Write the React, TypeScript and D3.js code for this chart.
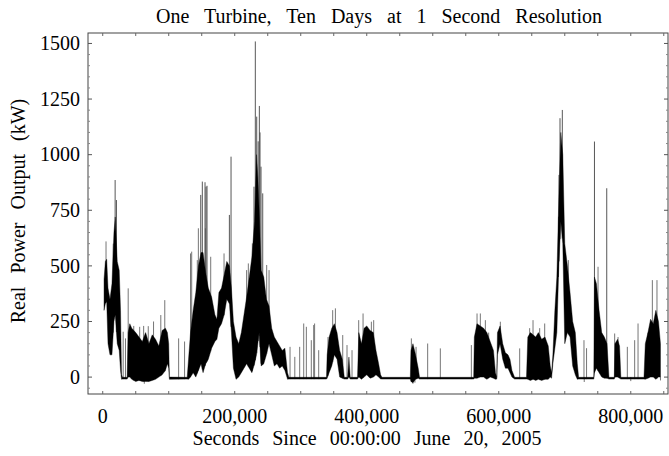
import * as d3 from "d3";

// envelope of the dense trace: time (thousand seconds), low and high of the black band (kW)
const envT = [
  2, 4, 6, 8, 11, 14, 17, 19, 22, 25, 27, 28.5, 30, 37, 38.5, 41, 44, 50, 55, 60,
  65, 70, 75, 80, 85, 90, 95, 98, 100, 101, 128, 130, 133, 137, 141, 145, 149, 152, 156, 160,
  165, 170, 173, 176, 180, 184, 188, 192, 195, 198, 202, 206, 210, 214, 218, 222, 226, 230, 233, 235,
  237, 240, 244, 248, 252, 256, 260, 264, 268, 272, 276, 280, 282, 339, 340, 343, 347, 351, 355, 359,
  363, 366, 371, 373, 375, 386, 388, 392, 396, 400, 405, 410, 414, 418, 421, 423, 466, 467, 470, 474,
  478, 480, 562, 563, 567, 572, 577, 582, 587, 592, 595, 597, 598, 602, 606, 610, 614, 617, 620, 624,
  642, 644, 648, 652, 656, 660, 665, 670, 675, 678, 680, 682, 685, 688, 691, 694, 697, 700, 704, 708,
  712, 716, 719, 721, 744, 745, 748, 752, 756, 760, 764, 767, 775, 776, 780, 783, 785, 820, 822, 826,
  830, 834, 838, 842, 845,
];
const envLo = [
  300, 330, 340, 150, 100, 100, 250, 280, 150, 120, 30, -10, -9, -9, 0, 0, -10, -20, -15, -20,
  -20, -20, -15, -10, 0, 10, 30, 60, 40, -10, -9, -10, 0, 20, 0, 30, 60, 20, 60, 80,
  130, 160, 170, 220, 240, 280, 350, 330, 200, 40, -10, 0, 20, 40, 60, 40, 20, 60, 100, 150,
  200, 50, 60, 100, 150, 100, 50, 60, 40, 50, 30, -10, -9, -9, -5, 20, 50, 100, 80, 0,
  -5, -9, -9, 0, -9, -9, 0, -10, 0, 10, -5, 0, 10, 0, -8, -9, -9, -20, -25, -10,
  -5, -9, -9, -5, -5, 0, 0, -10, 0, -5, -10, -9, 100, 150, 80, 40, 40, 20, 0, -9,
  -9, -10, -15, -10, -15, -10, -15, -10, -10, 0, -5, 60, 130, 200, 500, 700, 600, 150, 200, 180,
  50, 10, -10, -9, -9, 20, 40, 20, 0, -5, -5, -9, -9, 0, 0, -5, -9, -9, -10, -5,
  0, 0, -10, 0, 0,
];
const envHi = [
  440, 520, 530, 400, 350, 420, 650, 720, 520, 480, 300, 10, -1, -1, 200, 240, 220, 200, 180, 160,
  200, 150, 190, 170, 140, 210, 220, 200, 150, 0, -1, 80, 200, 300, 380, 500, 560, 560, 470, 400,
  360, 280, 260, 380, 400, 460, 520, 500, 400, 250, 180, 150, 200, 280, 360, 450, 540, 700, 1000, 900,
  750, 480, 450, 350, 320, 220, 180, 160, 140, 120, 130, 20, -1, -1, 100, 180, 220, 240, 200, 120,
  80, -1, -1, 90, -1, -1, 200, 150, 220, 230, 210, 200, 120, 60, 10, -1, -1, 120, 150, 100,
  40, -1, -1, 180, 240, 230, 220, 200, 160, 120, 20, -1, 200, 230, 150, 110, 100, 80, 30, -1,
  -1, 180, 200, 190, 180, 200, 170, 180, 140, 50, 20, 100, 300, 450, 800, 1100, 1000, 600, 500, 380,
  250, 200, 60, -1, -1, 450, 420, 300, 200, 180, 150, -1, -1, 150, 170, 140, -1, -1, 150, 200,
  260, 240, 300, 250, 150,
];

// single-sample excursions: time (thousand seconds) and value (kW)
const spikeT = [
  5, 16, 18.8, 20.8, 31, 34.5, 38.6, 47, 56, 62, 69, 77, 88, 94, 115, 124, 133, 134.8, 143.3, 144.9,
  148.5, 150.9, 155, 155.5, 156.5, 158, 163.6, 183.8, 191.9, 194.4, 218, 220.6, 226.7, 229.2, 231.2, 233.3, 235.5, 237.3, 238.3, 239.8,
  242.4, 248.4, 252, 283.8, 291, 298.4, 304.5, 308.5, 316, 319.6, 321, 327.2, 341.3, 348.4, 352.5, 363.6, 370.1, 377.7, 387.8, 394.4,
  407, 410.5, 467.6, 474.7, 492.3, 511.5, 558.5, 567.1, 572.1, 579.7, 584.7, 602.4, 631.7, 646.8, 651.9, 662, 669.6, 690.5, 691.3, 692.8,
  696.3, 705.4, 729.1, 733, 745, 750.4, 763.6, 775.6, 780.7, 794.8, 805.9, 811, 826.1, 832.7, 839.7, 63, 470, 473, 729.5, 800,
  845,
];
const spikeV = [
  610, 600, 886, 796, 204, 174, 399, 230, 226, 230, 229, 250, 279, 346, 174, 160, 556, 564, 526, 669,
  819, 879, 876, 669, 856, 860, 541, 556, 729, 991, 481, 511, 601, 856, 1509, 1171, 1060, 1219, 1100, 946,
  826, 504, 481, 136, 91, 136, 241, 226, 166, 234, 241, 121, 180, 301, 309, 189, 144, 121, 256, 286,
  249, 256, 174, 136, 151, 129, 144, 286, 286, 256, 200, 249, 129, 220, 256, 220, 241, 721, 909, 1164,
  1201, 526, 166, 130, 1059, 496, 849, 196, 180, 136, 166, 241, 200, 436, 436, -30, -30, -25, -22, -18,
  -15,
];

const xTickLabels = ["0", "200,000", "400,000", "600,000", "800,000"];
const yTickLabels = ["0", "250", "500", "750", "1000", "1250", "1500"];

const W = 669;
const H = 456;
const frame = { left: 88, top: 33, right: 668, bottom: 394 };
const serif = "'Liberation Serif', 'Times New Roman', Times, serif";

export default function App() {
  const x = d3.scaleLinear().domain([-22300, 856400]).range([frame.left, frame.right]);
  const y = d3.scaleLinear().domain([-76, 1547]).range([frame.bottom, frame.top]);

  const band = envT.map((t, i) => ({ t: t * 1000, lo: envLo[i], hi: envHi[i] }));
  const area = d3
    .area<{ t: number; lo: number; hi: number }>()
    .x((d) => x(d.t))
    .y0((d) => y(d.lo))
    .y1((d) => y(d.hi));

  // spikes start from the band's low edge at that time
  const loAt = d3.scaleLinear().domain(envT.map((t) => t * 1000)).range(envLo).clamp(true);
  const spikes = spikeT.map((t, i) => ({ t: t * 1000, v: spikeV[i] }));

  const xTicks = d3.range(0, 850001, 50000);
  const yMajor = d3.range(0, 1501, 250);
  const yMinor = d3.range(-50, 1501, 50).filter((v) => v % 250 !== 0);

  return (
    <div style={{ position: "fixed", left: 0, top: 0 }}>
      <svg width={W} height={H} style={{ display: "block", background: "#fff" }}>
        <text x={379} y={23} textAnchor="middle" fontFamily={serif} fontSize={20} wordSpacing={10}>
          One Turbine, Ten Days at 1 Second Resolution
        </text>

        <g clipPath="url(#plot)">
          <clipPath id="plot">
            <rect x={frame.left} y={frame.top} width={frame.right - frame.left} height={frame.bottom - frame.top} />
          </clipPath>
          {spikes.map((d, i) => {
            const base = d.v < 0 ? 0 : Math.min(loAt(d.t), d.v);
            return (
              <line
                key={i}
                x1={x(d.t)}
                x2={x(d.t)}
                y1={y(base)}
                y2={y(d.v)}
                stroke={d.v > 700 ? "#444" : "#666"}
                strokeWidth={0.9}
              />
            );
          })}
          <path d={area(band) ?? ""} fill="#000" stroke="#000" strokeWidth={0.4} />
        </g>

        <rect
          x={frame.left}
          y={frame.top}
          width={frame.right - frame.left}
          height={frame.bottom - frame.top}
          fill="none"
          stroke="#444"
          strokeWidth={1}
        />

        {xTicks.map((t) => (
          <g key={t} stroke="#666" strokeWidth={1}>
            <line x1={x(t)} x2={x(t)} y1={frame.bottom} y2={frame.bottom - 3} />
            <line x1={x(t)} x2={x(t)} y1={frame.top} y2={frame.top + 3} />
          </g>
        ))}
        {yMajor.map((v) => (
          <g key={v} stroke="#555" strokeWidth={1}>
            <line x1={frame.left} x2={frame.left + 4} y1={y(v)} y2={y(v)} />
            <line x1={frame.right} x2={frame.right - 4} y1={y(v)} y2={y(v)} />
          </g>
        ))}
        {yMinor.map((v) => (
          <g key={v} stroke="#888" strokeWidth={1}>
            <line x1={frame.left} x2={frame.left + 2} y1={y(v)} y2={y(v)} />
            <line x1={frame.right} x2={frame.right - 2} y1={y(v)} y2={y(v)} />
          </g>
        ))}

        {xTickLabels.map((s, i) => (
          <text key={s} x={x(i * 200000)} y={423} textAnchor="middle" fontFamily={serif} fontSize={20}>
            {s}
          </text>
        ))}
        {yTickLabels.map((s, i) => (
          <text key={s} x={80} y={y(i * 250)} dy="0.34em" textAnchor="end" fontFamily={serif} fontSize={20}>
            {s}
          </text>
        ))}

        <text x={367} y={445} textAnchor="middle" fontFamily={serif} fontSize={20} wordSpacing={8}>
          Seconds Since 00:00:00 June 20, 2005
        </text>
        <text
          transform={`translate(25, 211) rotate(-90)`}
          textAnchor="middle"
          fontFamily={serif}
          fontSize={20}
          wordSpacing={8}
        >
          Real Power Output (kW)
        </text>
      </svg>
    </div>
  );
}
